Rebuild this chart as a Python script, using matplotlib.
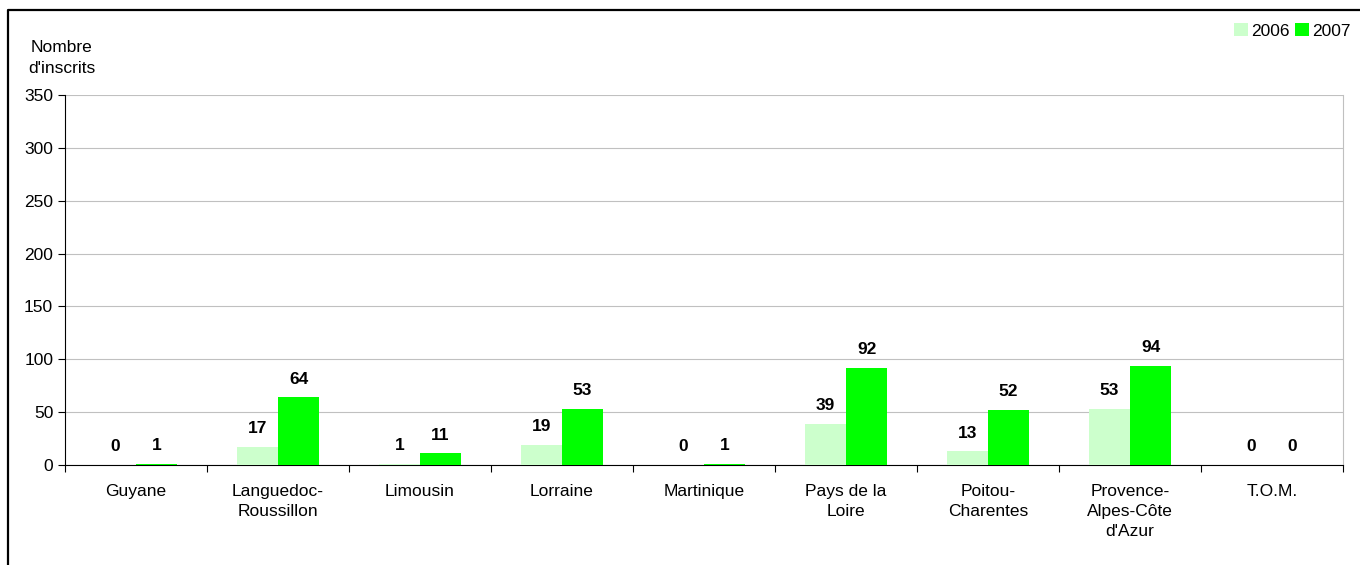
import matplotlib.pyplot as plt
import numpy as np
from matplotlib.lines import Line2D

plt.rcParams['font.family'] = ['Liberation Sans', 'DejaVu Sans']

regions = ["Guyane", "Languedoc-\nRoussillon", "Limousin", "Lorraine", "Martinique",
           "Pays de la\nLoire", "Poitou-\nCharentes", "Provence-\nAlpes-Côte\nd'Azur", "T.O.M."]
v2006 = [0, 17, 1, 19, 0, 39, 13, 53, 0]
v2007 = [1, 64, 11, 53, 1, 92, 52, 94, 0]

fig = plt.figure(figsize=(13.6, 5.65), dpi=100)
ax = fig.add_axes([65/1360, 1 - 465/565, (1343-65)/1360, (465-95)/565])

x = np.arange(len(regions))
w = 0.29
b1 = ax.bar(x - w/2, v2006, w, color='#CCFFCC', label='2006', zorder=3)
b2 = ax.bar(x + w/2, v2007, w, color='#00FF00', label='2007', zorder=3)

# value labels
for bars, vals in [(b1, v2006), (b2, v2007)]:
    for bar, v in zip(bars, vals):
        ax.text(bar.get_x() + bar.get_width()/2, v + 10, str(v), ha='center', va='bottom',
                fontsize=12.5, fontweight='bold')

ax.set_xlim(-0.5, len(regions) - 0.5)
ax.set_ylim(0, 350)
ax.set_yticks(range(0, 351, 50))
ax.yaxis.grid(True, color='#c0c0c0', linewidth=0.8, zorder=0)
ax.set_xticks(np.arange(-0.5, len(regions), 1))
ax.set_xticklabels([])
ax.set_xticks(x, minor=True)
ax.set_xticklabels(regions, minor=True, fontsize=12.5, linespacing=1.4)
ax.tick_params(axis='x', which='minor', length=0, pad=14)
ax.tick_params(axis='x', which='major', length=5, direction='out')
ax.tick_params(axis='y', length=5, direction='out', labelsize=12.5)
ax.spines['top'].set_visible(False)
ax.spines['right'].set_color('#c0c0c0')
ax.spines['left'].set_color('black')
ax.spines['bottom'].set_color('black')

fig.text(62/1360, 1 - 58/565, "Nombre\nd'inscrits", ha='center', va='center', fontsize=12.5,
         linespacing=1.45)

fig.legend(loc='upper right', bbox_to_anchor=(1358/1360, 1 - 16/565), ncol=2, frameon=False,
           fontsize=12.5, handlelength=0.8, handleheight=0.8, handletextpad=0.2,
           columnspacing=0.3, borderaxespad=0)

# frame on the left and top of the picture
fig.add_artist(Line2D([8/1360, 8/1360, 1], [0, 1 - 10/565, 1 - 10/565],
                      transform=fig.transFigure, color='black', linewidth=1.6))

fig.savefig('out.png', dpi=100)
